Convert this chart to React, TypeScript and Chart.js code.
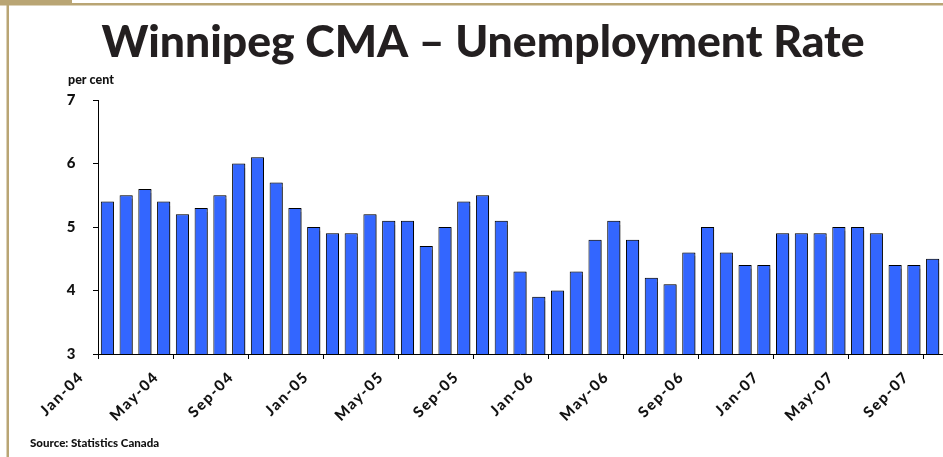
import React, { useEffect, useRef } from "react";
import { Chart, registerables } from "chart.js";

Chart.register(...registerables);

const categories: string[] = [
  "Jan-04", "Feb-04", "Mar-04", "Apr-04", "May-04", "Jun-04", "Jul-04", "Aug-04", "Sep-04", "Oct-04", "Nov-04", "Dec-04",
  "Jan-05", "Feb-05", "Mar-05", "Apr-05", "May-05", "Jun-05", "Jul-05", "Aug-05", "Sep-05", "Oct-05", "Nov-05", "Dec-05",
  "Jan-06", "Feb-06", "Mar-06", "Apr-06", "May-06", "Jun-06", "Jul-06", "Aug-06", "Sep-06", "Oct-06", "Nov-06", "Dec-06",
  "Jan-07", "Feb-07", "Mar-07", "Apr-07", "May-07", "Jun-07", "Jul-07", "Aug-07", "Sep-07",
];

const unemploymentRate: number[] = [
  5.4, 5.5, 5.6, 5.4, 5.2, 5.3, 5.5, 6.0, 6.1, 5.7, 5.3, 5.0,
  4.9, 4.9, 5.2, 5.1, 5.1, 4.7, 5.0, 5.4, 5.5, 5.1, 4.3, 3.9,
  4.0, 4.3, 4.8, 5.1, 4.8, 4.2, 4.1, 4.6, 5.0, 4.6, 4.4, 4.4,
  4.9, 4.9, 4.9, 5.0, 5.0, 4.9, 4.4, 4.4, 4.5,
];

const yTicks: number[] = [3, 4, 5, 6, 7];
const labelEvery = 4;

const TITLE = "Winnipeg CMA \u2013 Unemployment Rate";
const UNIT = "per cent";
const SOURCE = "Source: Statistics Canada";

const TAN = "#b9a574";
const FONT = "Lato, sans-serif";

const framePlugin = {
  id: "slideFrame",
  beforeDraw(chart: any) {
    const { ctx, width, height } = chart;
    ctx.save();
    ctx.fillStyle = "#ffffff";
    ctx.fillRect(0, 0, width, height);
    ctx.fillStyle = TAN;
    ctx.fillRect(0, 0, 72, 5);
    ctx.fillRect(0, 3, width, 2.5);
    ctx.fillRect(6.5, 0, 2.5, height);
    ctx.restore();
    ctx.letterSpacing = "1.6px";
  },
  beforeDatasetsDraw(chart: any) {
    const { ctx } = chart;
    ctx.letterSpacing = "0px";
    ctx.save();
    ctx.shadowColor = "rgba(0,0,0,0.45)";
    ctx.shadowOffsetX = 1.5;
    ctx.shadowOffsetY = 0.5;
    ctx.shadowBlur = 1;
  },
  afterDatasetsDraw(chart: any) {
    chart.ctx.restore();
  },
  afterDraw(chart: any) {
    const { ctx } = chart;
    const area = chart.chartArea;
    ctx.save();
    ctx.letterSpacing = "0px";
    ctx.fillStyle = "#231f20";
    ctx.textBaseline = "alphabetic";
    ctx.textAlign = "center";
    ctx.font = `900 44.5px ${FONT}`;
    ctx.fillText(TITLE, 483, 57);
    ctx.textAlign = "left";
    ctx.fillStyle = "#111111";
    ctx.font = `900 12.5px ${FONT}`;
    ctx.fillText(UNIT, area.left - 30, 84);
    ctx.font = `900 11.5px ${FONT}`;
    ctx.fillText(SOURCE, 30, 447);
    ctx.restore();
  },
};

export default function App() {
  const ref = useRef<HTMLCanvasElement | null>(null);

  useEffect(() => {
    if (!ref.current) return;
    const chart = new Chart(ref.current, {
      type: "bar",
      data: {
        labels: categories,
        datasets: [
          {
            label: "Unemployment rate",
            data: unemploymentRate,
            backgroundColor: "#3366ff",
            borderColor: "#000000",
            borderWidth: 1,
            barPercentage: 0.7,
            categoryPercentage: 1,
          },
        ],
      },
      options: {
        responsive: false,
        animation: false,
        events: [],
        layout: { padding: { top: 100, left: 0, right: 1, bottom: 0 } },
        plugins: {
          legend: { display: false },
          title: { display: false },
          tooltip: { enabled: false },
        },
        scales: {
          x: {
            type: "category",
            offset: true,
            grid: {
              offset: true,
              drawOnChartArea: false,
              drawTicks: true,
              tickLength: 5,
              tickColor: (c: any) => (c.index % labelEvery === 0 ? "#000000" : "rgba(0,0,0,0)"),
            },
            border: { display: true, color: "#000000", width: 1 },
            ticks: {
              autoSkip: false,
              minRotation: 45,
              maxRotation: 45,
              padding: 9,
              labelOffset: -26,
              color: "#111111",
              font: { family: FONT, size: 15, weight: "900" },
              callback: (_v: any, i: number) => (i % labelEvery === 0 ? categories[i] : ""),
            },
            afterFit: (scale: any) => {
              scale.height = 103;
              scale.paddingLeft = 0;
              scale.paddingRight = 0;
            },
          },
          y: {
            min: yTicks[0],
            max: yTicks[yTicks.length - 1],
            grid: {
              drawOnChartArea: false,
              drawTicks: true,
              tickLength: 5,
              tickColor: "#000000",
            },
            border: { display: true, color: "#000000", width: 1 },
            afterBuildTicks: (scale: any) => {
              scale.ticks = yTicks.map((v) => ({ value: v }));
            },
            ticks: {
              padding: 16,
              color: "#111111",
              font: { family: FONT, size: 15, weight: "900" },
            },
            afterFit: (scale: any) => {
              scale.width = 98;
            },
          },
        },
      },
      plugins: [framePlugin],
    });
    return () => chart.destroy();
  }, []);

  return (
    <div style={{ position: "absolute", left: 0, top: 0, width: 943, height: 457 }}>
      <canvas ref={ref} width={943} height={457} style={{ display: "block" }} />
    </div>
  );
}
